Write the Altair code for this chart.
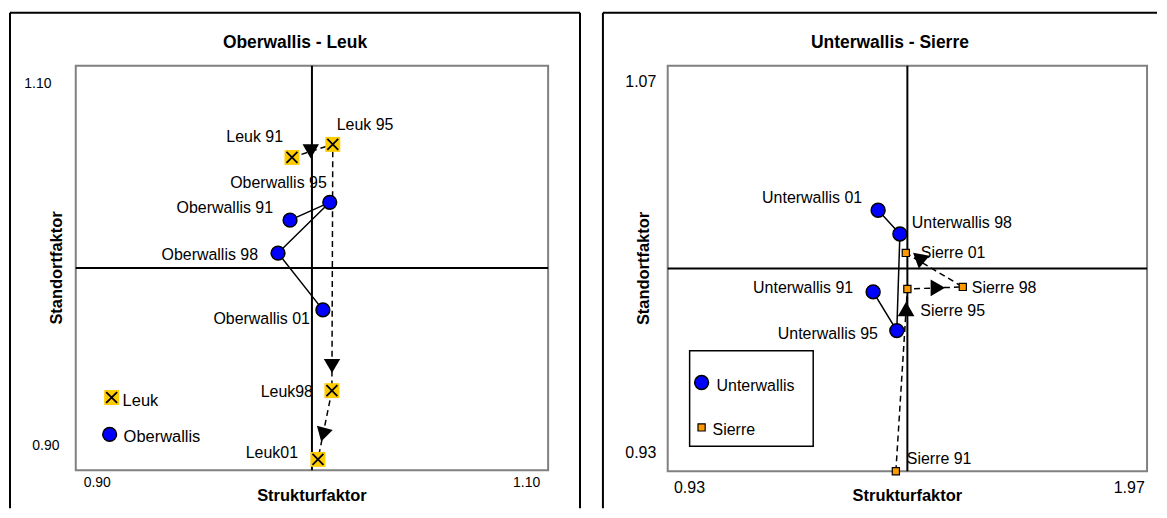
import altair as alt
import pandas as pd

FONT = "Liberation Sans"

# ---------------- data: left panel (Oberwallis - Leuk) ----------------
leuk_labels = ["Leuk 91", "Leuk 95", "Leuk98", "Leuk01"]
leuk_x = [0.9907, 1.0097, 1.0093, 1.0028]
leuk_y = [1.0601, 1.0672, 0.9333, 0.8959]

ober_labels = ["Oberwallis 91", "Oberwallis 95", "Oberwallis 98", "Oberwallis 01"]
ober_x = [0.9898, 1.0083, 0.9842, 1.0051]
ober_y = [1.0260, 1.0357, 1.0081, 0.9772]

left_ticks = [0.90, 1.10]
left_tick_text = ["0.90", "1.10"]

# ---------------- data: right panel (Unterwallis - Sierre) ----------------
unter_labels = ["Unterwallis 91", "Unterwallis 95", "Unterwallis 98", "Unterwallis 01"]
unter_x = [0.9890, 0.9966, 0.9976, 0.9906]
unter_y = [0.9911, 0.9764, 1.0131, 1.0221]

sierre_labels = ["Sierre 91", "Sierre 95", "Sierre 98", "Sierre 01"]
sierre_x = [0.9963, 1.0000, 1.0178, 0.9995]
sierre_y = [0.9230, 0.9922, 0.9930, 1.0059]

right_ticks = [0.93, 1.07]
right_tick_text_x = ["0.93", "1.97"]
right_tick_text_y = ["0.93", "1.07"]

cross_value = 1.0

# ---------------- styling / placement ----------------
W1, H1 = 474, 406
W2, H2 = 481, 407
DOM1 = [0.89, 1.11]
DOM2 = [0.923, 1.077]

BLUE = "#0000FF"
GOLD = "#FFCC00"
ORANGE = "#FF9900"
XPATH = "M-1,-1L1,1M-1,1L1,-1"

# (align, dx, dy) for point labels
leuk_lab_pos = [("right", -9, -15), ("left", 4, -14), ("right", -19, 6), ("right", -20, -1)]
ober_lab_pos = [("right", -17, -7), ("right", -3, -14), ("right", -20, 7), ("right", -13, 14)]
unter_lab_pos = [("right", -20, 1), ("right", -19, 8), ("left", 12, -6), ("right", -16, -7)]
sierre_lab_pos = [("left", 11, -7), ("left", 13, 27), ("left", 9, 6), ("left", 15, 5)]

left_arrow = dict(frac=[0.46, 0.90, 0.64], shape=["triangle-down"] * 3, angle=[0, 0, 15])
right_arrow = dict(frac=[0.89, 0.55, 0.75], shape=["triangle-up", "triangle-right", "triangle-down"], angle=[0, 0, 10])


def one():
    return pd.DataFrame({"k": [0]})


def xs(dom):
    return alt.X("x:Q", scale=alt.Scale(domain=dom, nice=False, zero=False), axis=None)


def ys(dom):
    return alt.Y("y:Q", scale=alt.Scale(domain=dom, nice=False, zero=False), axis=None)


def series_df(xv, yv, labels):
    return pd.DataFrame({"x": xv, "y": yv, "label": labels, "o": list(range(len(xv)))})


def path(df, dom, dashed):
    kw = dict(color="black", strokeWidth=1.5)
    if dashed:
        kw["strokeDash"] = [6, 4]
    return alt.Chart(df).mark_line(**kw).encode(x=xs(dom), y=ys(dom), order="o:Q")


def arrow_layer(xv, yv, spec, dom, size):
    rows = []
    for i in range(len(xv) - 1):
        t = spec["frac"][i]
        rows.append({"x": xv[i] + t * (xv[i + 1] - xv[i]),
                     "y": yv[i] + t * (yv[i + 1] - yv[i]),
                     "shape": spec["shape"][i], "angle": spec["angle"][i]})
    return alt.Chart(pd.DataFrame(rows)).mark_point(filled=True, color="black", size=size, opacity=1).encode(
        x=xs(dom), y=ys(dom),
        shape=alt.Shape("shape:N", scale=None),
        angle=alt.Angle("angle:Q", scale=None))


def labels(df, pos, dom, size):
    out = []
    for i in range(len(df)):
        a, dx, dy = pos[i]
        out.append(alt.Chart(df.iloc[[i]]).mark_text(
            align=a, baseline="alphabetic", dx=dx, dy=dy, font=FONT, fontSize=size, color="black"
        ).encode(x=xs(dom), y=ys(dom), text="label:N"))
    return out


def txt(text, x, y, size, bold=False, align="center", baseline="alphabetic", angle=0):
    return alt.Chart(pd.DataFrame({"t": [text]})).mark_text(
        align=align, baseline=baseline, fontSize=size, font=FONT,
        fontWeight="bold" if bold else "normal", color="black", angle=angle
    ).encode(x=alt.value(x), y=alt.value(y), text="t:N")


def hrule(x1, x2, y, w=2, color="black"):
    return alt.Chart(one()).mark_rule(color=color, strokeWidth=w).encode(
        x=alt.value(x1), x2=alt.value(x2), y=alt.value(y))


def vrule(x, y1, y2, w=2, color="black"):
    return alt.Chart(one()).mark_rule(color=color, strokeWidth=w).encode(
        x=alt.value(x), y=alt.value(y1), y2=alt.value(y2))


def tick_x(val, text, dom, ypix, size, dx=0):
    return alt.Chart(pd.DataFrame({"x": [val], "t": [text]})).mark_text(
        align="center", baseline="middle", fontSize=size, font=FONT, color="black", dx=dx
    ).encode(x=xs(dom), y=alt.value(ypix), text="t:N")


def tick_y(val, text, dom, xpix, size, dy=0):
    return alt.Chart(pd.DataFrame({"y": [val], "t": [text]})).mark_text(
        align="center", baseline="middle", fontSize=size, font=FONT, color="black", dy=dy
    ).encode(y=ys(dom), x=alt.value(xpix), text="t:N")


def cross_lines(W, H, dom):
    v = alt.Chart(pd.DataFrame({"x": [cross_value]})).mark_rule(color="black", strokeWidth=2).encode(
        x=xs(dom), y=alt.value(0), y2=alt.value(H))
    h = alt.Chart(pd.DataFrame({"y": [cross_value]})).mark_rule(color="black", strokeWidth=2).encode(
        y=ys(dom), x=alt.value(0), x2=alt.value(W))
    return [v, h]


def sym(x, y, shape, size, fill, stroke=None, sw=0, filled=True):
    kw = dict(shape=shape, size=size, opacity=1, strokeWidth=sw)
    if filled:
        kw.update(filled=True, fill=fill)
    else:
        kw.update(filled=False)
    if stroke:
        kw["stroke"] = stroke
    return alt.Chart(one()).mark_point(**kw).encode(x=alt.value(x), y=alt.value(y))


# ---------------- left panel ----------------
leuk = series_df(leuk_x, leuk_y, leuk_labels)
ober = series_df(ober_x, ober_y, ober_labels)

left_layers = [
    hrule(-66, W1 + 32, -53), vrule(-66, -53, H1 + 38), vrule(W1 + 32, -53, H1 + 38),
    *cross_lines(W1, H1, DOM1),
    path(ober, DOM1, False),
    path(leuk, DOM1, True),
    arrow_layer(leuk_x, leuk_y, left_arrow, DOM1, 270),
    alt.Chart(leuk).mark_point(shape="square", size=225, filled=True, fill=GOLD, opacity=1, strokeWidth=0).encode(x=xs(DOM1), y=ys(DOM1)),
    alt.Chart(leuk).mark_point(shape=XPATH, size=120, filled=False, stroke="black", strokeWidth=1.8, opacity=1).encode(x=xs(DOM1), y=ys(DOM1)),
    alt.Chart(ober).mark_point(shape="circle", size=190, filled=True, fill=BLUE, stroke="black", strokeWidth=1.5, opacity=1).encode(x=xs(DOM1), y=ys(DOM1)),
    *labels(leuk, leuk_lab_pos, DOM1, 16),
    *labels(ober, ober_lab_pos, DOM1, 16),
    # legend
    sym(36, 333, "square", 225, GOLD),
    sym(36, 333, XPATH, 120, None, stroke="black", sw=1.8, filled=False),
    txt("Leuk", 47, 342, 16.5, align="left"),
    sym(34, 370, "circle", 190, BLUE, stroke="black", sw=1.5),
    txt("Oberwallis", 48, 378, 16.5, align="left"),
    # tick labels
    tick_y(left_ticks[1], left_tick_text[1], DOM1, -38, 14),
    tick_y(left_ticks[0], left_tick_text[0], DOM1, -30, 14, dy=-5.5),
    tick_x(left_ticks[0], left_tick_text[0], DOM1, H1 + 12.5, 14),
    tick_x(left_ticks[1], left_tick_text[1], DOM1, H1 + 12.5, 14),
    # titles
    txt("Oberwallis - Leuk", 220, -18, 17.5, bold=True),
    txt("Strukturfaktor", W1 / 2, H1 + 31, 16.5, bold=True),
    txt("Standortfaktor", -14, H1 / 2, 16.5, bold=True, angle=270),
]
left = alt.layer(*left_layers).properties(width=W1, height=H1)

# ---------------- right panel ----------------
unter = series_df(unter_x, unter_y, unter_labels)
sierre = series_df(sierre_x, sierre_y, sierre_labels)

right_layers = [
    hrule(-65, W2 + 10, -53), vrule(-65, -53, H2 + 37),
    *cross_lines(W2, H2, DOM2),
    path(unter, DOM2, False),
    path(sierre, DOM2, True),
    arrow_layer(sierre_x, sierre_y, right_arrow, DOM2, 280),
    alt.Chart(unter).mark_point(shape="circle", size=195, filled=True, fill=BLUE, stroke="black", strokeWidth=1.5, opacity=1).encode(x=xs(DOM2), y=ys(DOM2)),
    alt.Chart(sierre).mark_point(shape="square", size=52, filled=True, fill=ORANGE, stroke="black", strokeWidth=1.2, opacity=1).encode(x=xs(DOM2), y=ys(DOM2)),
    *labels(unter, unter_lab_pos, DOM2, 16),
    *labels(sierre, sierre_lab_pos, DOM2, 16),
    # legend box
    alt.Chart(one()).mark_rect(fillOpacity=0, stroke="black", strokeWidth=1.5).encode(
        x=alt.value(22), x2=alt.value(146), y=alt.value(286), y2=alt.value(382)),
    sym(34, 318, "circle", 195, BLUE, stroke="black", sw=1.5),
    txt("Unterwallis", 49, 326, 16, align="left"),
    sym(34, 363, "square", 52, ORANGE, stroke="black", sw=1.2),
    txt("Sierre", 45, 371, 16, align="left"),
    # tick labels
    tick_y(right_ticks[1], right_tick_text_y[1], DOM2, -27, 16, dy=-2.5),
    tick_y(right_ticks[0], right_tick_text_y[0], DOM2, -27, 16),
    tick_x(right_ticks[0], right_tick_text_x[0], DOM2, H2 + 17, 16),
    tick_x(right_ticks[1], right_tick_text_x[1], DOM2, H2 + 17, 16, dx=4),
    # titles
    txt("Unterwallis - Sierre", 223, -18, 17.5, bold=True),
    txt("Strukturfaktor", W2 / 2, H2 + 30, 16.5, bold=True),
    txt("Standortfaktor", -19, H2 / 2, 16.5, bold=True, angle=270),
]
right = alt.layer(*right_layers).properties(width=W2, height=H2)

chart = alt.hconcat(left, right, spacing=19).properties(
    padding={"left": 0, "top": 2, "right": 0, "bottom": 0}
).configure_view(stroke="#808080", strokeWidth=2)

chart.save("out.html", embed_options={"renderer": "svg", "actions": False})
